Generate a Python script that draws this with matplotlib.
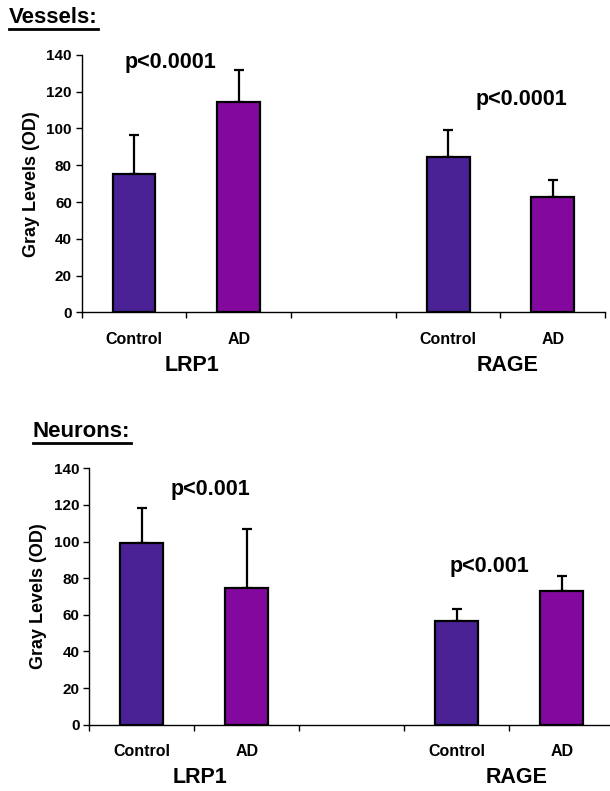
import matplotlib
matplotlib.use('Agg')
import matplotlib.pyplot as plt
from matplotlib.lines import Line2D

plt.rcParams['font.family'] = ['Liberation Sans', 'DejaVu Sans']
plt.rcParams['font.weight'] = 'bold'

# Data
groups = ['LRP1', 'RAGE']
conditions = ['Control', 'AD']

vessels_mean = [75, 114.5, 84.4, 62.8]
vessels_err = [21.7, 17.3, 14.6, 9.2]
vessels_p = ['p<0.0001', 'p<0.0001']

neurons_mean = [99.4, 74.5, 56.8, 73.2]
neurons_err = [19.1, 32.4, 6.3, 8.0]
neurons_p = ['p<0.001', 'p<0.001']

CONTROL_COLOR = '#4A2296'
AD_COLOR = '#83099E'

# bar slots: 0,1 = LRP1; 3,4 = RAGE (slot 2 empty)
SLOTS = [0, 1, 3, 4]

fig = plt.figure(figsize=(6.1, 7.91), dpi=100)


def draw_panel(rect, means, errs, pvals, p_pos, title, title_xy):
    ax = fig.add_axes(rect)
    colors = [CONTROL_COLOR, AD_COLOR, CONTROL_COLOR, AD_COLOR]
    ax.bar(SLOTS, means, width=0.41, color=colors, edgecolor='black',
           linewidth=1.6, zorder=2)
    ax.errorbar(SLOTS, means, yerr=[[0] * len(errs), errs], fmt='none',
                ecolor='black', elinewidth=1.6, capsize=3.5, capthick=1.6,
                zorder=1)

    ax.set_xlim(-0.5, 4.5)
    ax.set_ylim(0, 140)
    ax.set_yticks(range(0, 141, 20))
    ax.tick_params(axis='y', direction='out', length=4, width=1,
                   labelsize=11, pad=3)
    for lbl in ax.get_yticklabels():
        lbl.set_fontweight('bold')

    # category boundaries get the tick marks, names go in between
    ax.set_xticks([-0.5, 0.5, 1.5, 2.5, 3.5, 4.5])
    ax.set_xticklabels([])
    ax.tick_params(axis='x', which='major', direction='out', length=4, width=1)
    ax.set_xticks(SLOTS, minor=True)
    ax.set_xticklabels(conditions * 2, minor=True, fontsize=11.5,
                       fontweight='bold')
    ax.tick_params(axis='x', which='minor', length=0, pad=14)

    for side in ['top', 'right']:
        ax.spines[side].set_visible(False)
    ax.spines['left'].set_linewidth(1)
    ax.spines['bottom'].set_linewidth(1)

    ax.set_ylabel('Gray Levels (OD)', fontsize=13, fontweight='bold',
                  labelpad=5)

    for gx, name in zip([0.55, 3.57], groups):
        ax.text(gx, -0.205, name, transform=ax.get_xaxis_transform(),
                ha='center', va='center', fontsize=15.5, fontweight='bold',
                clip_on=False)

    for (px, py), txt in zip(p_pos, pvals):
        ax.text(px, py, txt, ha='center', va='center', fontsize=15.5,
                fontweight='bold')

    t = fig.text(title_xy[0], title_xy[1], title, ha='left',
                 va='baseline', fontsize=16, fontweight='bold')
    return ax, t


ax1, t1 = draw_panel([0.1339, 0.6052, 0.8582, 0.3253],
                     vessels_mean, vessels_err, vessels_p,
                     [(0.35, 135.9), (3.70, 115.6)],
                     'Vessels:', (9 / 610, 1 - 23 / 791))
ax2, t2 = draw_panel([0.1464, 0.0838, 0.8607, 0.3241],
                     neurons_mean, neurons_err, neurons_p,
                     [(0.657, 128.6), (3.31, 86.3)],
                     'Neurons:', (33 / 610, 1 - 437 / 791))

# underline the panel titles
fig.canvas.draw()
for t in [t1, t2]:
    bb = t.get_window_extent()
    x0, x1 = bb.x0 / fig.bbox.width, bb.x1 / fig.bbox.width
    x, y = t.get_position()
    yl = y - 6 / fig.bbox.height
    fig.add_artist(Line2D([x0, x1], [yl, yl], transform=fig.transFigure,
                          color='black', linewidth=2))

fig.savefig('out.png', dpi=100)
